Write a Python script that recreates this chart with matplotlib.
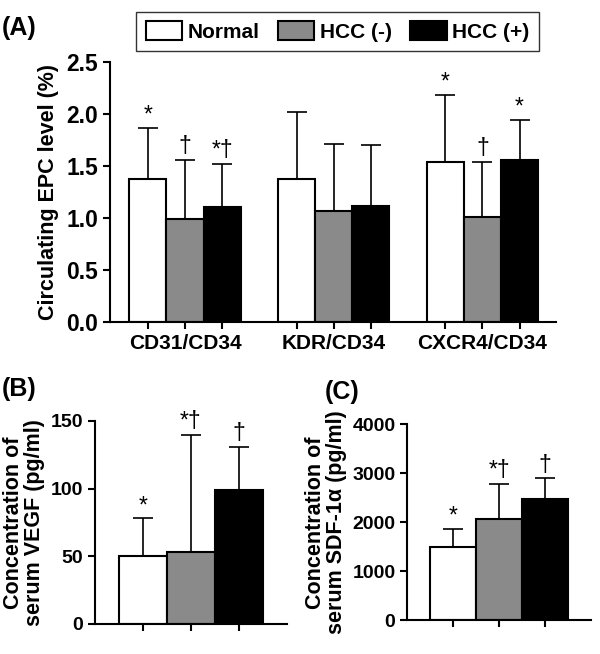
import matplotlib
matplotlib.use("Agg")
import matplotlib.pyplot as plt
from matplotlib.patches import Patch
import numpy as np

plt.rcParams['font.family'] = ['Liberation Sans', 'DejaVu Sans']
plt.rcParams['font.weight'] = 'bold'

# === Data ===
groups = ['Normal', 'HCC (-)', 'HCC (+)']
colors = ['white', '#8a8a8a', 'black']

epc_markers = ['CD31/CD34', 'KDR/CD34', 'CXCR4/CD34']
epc_mean = [[1.37, 0.99, 1.11],
            [1.37, 1.07, 1.12],
            [1.54, 1.01, 1.56]]
epc_sd = [[0.49, 0.57, 0.41],
          [0.65, 0.64, 0.58],
          [0.64, 0.53, 0.38]]
epc_marks = [['*', '†', '*†'],
             ['', '', ''],
             ['*', '†', '*']]

vegf_mean = [50, 53, 99]
vegf_sd = [28, 87, 32]
vegf_marks = ['*', '*†', '†']

sdf_mean = [1500, 2060, 2475]
sdf_sd = [370, 730, 430]
sdf_marks = ['*', '*†', '†']

LW = 1.5


def style_axis(ax, ticksize):
    for s in ['top', 'right']:
        ax.spines[s].set_visible(False)
    for s in ['left', 'bottom']:
        ax.spines[s].set_linewidth(LW)
    ax.tick_params(width=LW, length=5, labelsize=ticksize, direction='out')
    for lab in ax.get_yticklabels() + ax.get_xticklabels():
        lab.set_fontweight('bold')


def draw_bars(ax, x, means, sds, marks, cols):
    ax.bar(x, means, width=1.0, color=cols, edgecolor='black', linewidth=LW, zorder=2)
    ax.errorbar(x, means, yerr=[np.zeros(len(means)), sds], fmt='none',
                ecolor='black', elinewidth=1.2, capsize=7, capthick=1.2, zorder=1)
    for xi, m, s, t in zip(x, means, sds, marks):
        if t:
            ax.annotate(t, (xi, m + s), xytext=(0, 1), textcoords='offset points',
                        ha='center', va='bottom', fontsize=16.5, fontweight='normal')


fig = plt.figure(figsize=(6.0, 6.54), dpi=100)

# === (A) circulating EPC ===
axA = fig.add_axes([0.1833, 0.5072, 0.7433, 0.3985])
xs_all, lab_all = [], []
for g, name in enumerate(epc_markers):
    x = g * 4 + np.arange(3)
    draw_bars(axA, x, epc_mean[g], epc_sd[g], epc_marks[g], colors)
    xs_all += list(x)
    lab_all += ['', name, '']
axA.set_xlim(-1.02, 10.98)
axA.set_ylim(0, 2.5)
axA.set_yticks([0, 0.5, 1.0, 1.5, 2.0, 2.5])
axA.set_yticklabels(['0.0', '0.5', '1.0', '1.5', '2.0', '2.5'])
axA.set_xticks(xs_all)
axA.set_xticklabels(lab_all)
axA.set_ylabel('Circulating EPC level (%)', fontsize=15.5, fontweight='bold', labelpad=5)
style_axis(axA, 16.5)
axA.tick_params(axis='x', labelsize=15)

# === (B) serum VEGF ===
axB = fig.add_axes([0.1583, 0.0459, 0.3195, 0.3104])
draw_bars(axB, np.arange(3), vegf_mean, vegf_sd, vegf_marks, colors)
axB.set_xlim(-1, 3)
axB.set_ylim(0, 150)
axB.set_yticks([0, 50, 100, 150])
axB.set_xticks([0, 1, 2])
axB.set_xticklabels([])
axB.set_ylabel('Concentration of\nserum VEGF (pg/ml)', fontsize=15.5, fontweight='bold',
               labelpad=4, linespacing=1.0)
style_axis(axB, 14)

# === (C) serum SDF-1a ===
axC = fig.add_axes([0.6788, 0.0515, 0.306, 0.2997])
draw_bars(axC, np.arange(3), sdf_mean, sdf_sd, sdf_marks, colors)
axC.set_xlim(-1, 3)
axC.set_ylim(0, 4000)
axC.set_yticks([0, 1000, 2000, 3000, 4000])
axC.set_xticks([0, 1, 2])
axC.set_xticklabels([])
axC.set_ylabel('Concentration of\nserum SDF-1α (pg/ml)', fontsize=15.5, fontweight='bold',
               labelpad=4, linespacing=1.0)
style_axis(axC, 14)

# === panel letters and legend ===
fig.text(0.003, 1 - 16 / 654, '(A)', fontsize=18, fontweight='bold', va='top')
fig.text(0.003, 1 - 377 / 654, '(B)', fontsize=18, fontweight='bold', va='top')
fig.text(325 / 600, 1 - 380 / 654, '(C)', fontsize=18, fontweight='bold', va='top')

handles = [Patch(facecolor=c, edgecolor='black', linewidth=LW) for c in colors]
leg = fig.legend(handles, groups, loc='center', bbox_to_anchor=(0.5625, 0.9518), ncol=3,
                 fontsize=15, frameon=True, fancybox=False, edgecolor='black',
                 handlelength=1.75, handleheight=1.0, handletextpad=0.25,
                 columnspacing=0.9, borderpad=0.45)
leg.get_frame().set_linewidth(1.0)
for t in leg.get_texts():
    t.set_fontweight('bold')

fig.savefig('out.png', dpi=100)
